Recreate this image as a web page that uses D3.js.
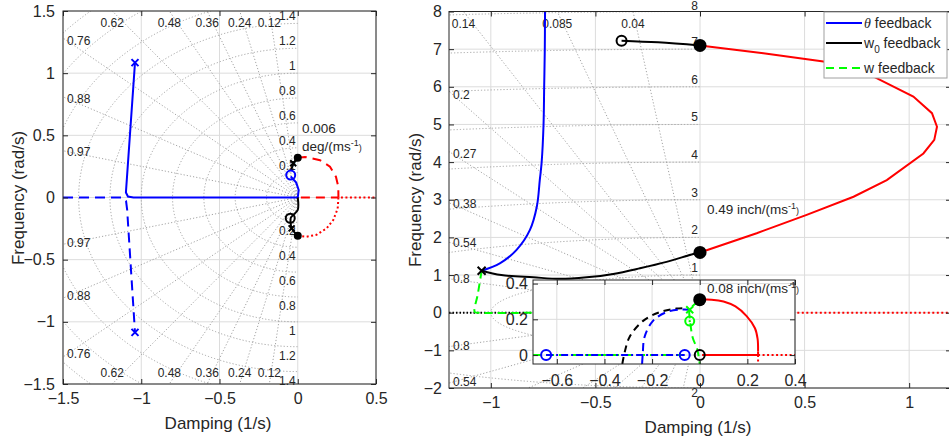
<!DOCTYPE html>
<html>
<head>
<meta charset="utf-8">
<script src="https://cdn.jsdelivr.net/npm/d3@7"></script>
<style>
  body { margin: 0; background: #fff; }
  text { font-family: "Liberation Sans", Arial, sans-serif; }
</style>
</head>
<body>
<svg id="chart" width="949" height="440"></svg>
<script>
// ---- left panel: low gain loci ----
var leftXTicks = [-1.5, -1, -0.5, 0, 0.5];
var leftYTicks = [-1.5, -1, -0.5, 0, 0.5, 1, 1.5];
var leftZeta = [0.12, 0.24, 0.36, 0.48, 0.62, 0.76, 0.88, 0.97];
var leftWn = [0.2, 0.4, 0.6, 0.8, 1, 1.2, 1.4, 1.6, 1.8, 2];
var leftWnLabels = [0.2, 0.4, 0.6, 0.8, 1, 1.2, 1.4];

var leftTheta = [[-1.04, 1.085], [-1.098, 0.04], [-1.085, 0.008], [-1.05, 0], [0, 0], [0.006, 0.06], [-0.01, 0.12], [-0.045, 0.17]];
var leftThetaNeg = [[-1.5, 0], [-1.12, 0], [-1.097, -0.03], [-1.09, -0.1], [-1.04, -1.085]];
var leftW0Up = [[0, 0.32], [-0.029, 0.275], [-0.04, 0.225]];
var leftW0Down = [[0, 0], [0, -0.1], [-0.029, -0.14], [-0.045, -0.165], [-0.045, -0.208], [-0.039, -0.248], [0, -0.307]];
var leftRedDash = [[0, 0.32], [0.046, 0.326], [0.142, 0.30], [0.206, 0.248], [0.244, 0.167], [0.259, 0.087], [0.26, 0]];
var leftRedDashAxis = [[0.02, 0], [0.26, 0]];
var leftRedDot = [[0, -0.307], [0.057, -0.315], [0.12, -0.30], [0.185, -0.248], [0.227, -0.181], [0.255, -0.09], [0.26, 0], [0.5, 0]];

var leftThetaPoles = [[-1.04, 1.085], [-1.04, -1.085]];
var leftThetaZeros = [[-0.045, 0.18]];
var leftW0Poles = [[-0.029, 0.275], [-0.039, -0.248]];
var leftW0Zeros = [[-0.048, -0.167]];
var leftGainPoints = [[0, 0.32], [0, -0.307]];

// ---- right panel: high gain loci ----
var rightXTicks = [-1, -0.5, 0, 0.5, 1];
var rightYTicks = [-2, -1, 0, 1, 2, 3, 4, 5, 6, 7, 8];
var rightZeta = [0.04, 0.085, 0.14, 0.2, 0.27, 0.38, 0.54, 0.8];
var rightWn = [1, 2, 3, 4, 5, 6, 7, 8];

var rightTheta = [[-1.044, 1.115], [-0.957, 1.31], [-0.877, 1.67], [-0.813, 2.2], [-0.78, 2.82], [-0.766, 3.52], [-0.757, 4], [-0.748, 5], [-0.745, 6], [-0.742, 7], [-0.741, 8]];
var rightW0 = [[-1.044, 1.115], [-0.95, 1.0], [-0.797, 0.94], [-0.67, 0.9], [-0.542, 0.94], [-0.415, 1.03], [-0.287, 1.18], [-0.16, 1.35], [-0.032, 1.56], [0, 1.6]];
var rightW0Top = [[-0.375, 7.225], [-0.2, 7.18], [0, 7.1]];
var rightRed = [[0, 7.1], [0.303, 6.89], [0.59, 6.67], [0.83, 6.27], [1.02, 5.74], [1.109, 5.3], [1.133, 4.94], [1.12, 4.59], [1.068, 4.23], [0.893, 3.52], [0.734, 3.08], [0.51, 2.6], [0.271, 2.11], [0, 1.6]];
var rightRedDot = [[0.25, 0], [1.2, 0]];
var rightBlackDot = [[-1.2, 0], [-0.8, 0]];
var rightGreen = [[-1.044, 1.115], [-1.062, 0.5], [-1.077, 0.02], [-1.06, 0], [-0.8, 0]];

var rightW0Poles = [[-1.044, 1.115]];
var rightW0Zeros = [[-0.375, 7.225]];
var rightGainPoints = [[0, 7.1], [0, 1.6]];

// ---- inset ----
var insetXTicks = [-0.6, -0.4, -0.2, 0, 0.2, 0.4];
var insetYTicks = [0, 0.2, 0.4];
var insetRedAxis = [[0.01, 0], [0.245, 0], [0.245, 0.02]];
var insetRedArc = [[0.245, 0.02], [0.243, 0.09], [0.232, 0.15], [0.197, 0.218], [0.15, 0.272], [0.1, 0.3], [0.05, 0.31], [0, 0.31]];
var insetRedDot = [[0.245, 0], [0.4, 0]];
var insetRedDotDown = [[0.245, 0], [0.245, -0.05]];
var insetBlackDash = [[-0.325, -0.05], [-0.316, 0.01], [-0.295, 0.1], [-0.239, 0.19], [-0.168, 0.24], [-0.098, 0.26], [-0.05, 0.262]];
var insetBlueDash = [[-0.242, -0.05], [-0.239, 0.01], [-0.232, 0.1], [-0.197, 0.19], [-0.14, 0.24], [-0.077, 0.255], [-0.042, 0.254]];
var insetGreenDash = [[-0.005, 0.3], [-0.042, 0.254], [-0.04, 0.19], [-0.03, 0.1], [-0.01, 0.03], [0, -0.05]];
var insetGreenAxis = [[-0.7, 0], [-0.06, 0]];
var insetBlueAxis = [[-0.645, 0], [-0.063, 0]];

var insetThetaZeros = [[-0.645, 0], [-0.063, 0]];
var insetW0Zeros = [[0, 0]];
var insetGainPoints = [[0, 0.31]];
var insetWPoles = [[-0.042, 0.254]];
var insetWZeros = [[-0.042, 0.19]];

var legendLabels = ["θ", "w", "w"];

// ---------------------------------------------------------------
var svg = d3.select("#chart");
var defs = svg.append("defs");
var ink = "#262626";
var fmt = function(d) { return (d < 0 ? "\u2212" : "") + Math.abs(d); };

var xL = d3.scaleLinear().domain([-1.5, 0.5]).range([63, 376]);
var yL = d3.scaleLinear().domain([-1.5, 1.5]).range([384, 11]);
var xR = d3.scaleLinear().domain([-1.2, 1.2]).range([449, 951]);
var yR = d3.scaleLinear().domain([-2, 8]).range([388, 11.5]);
var xI = d3.scaleLinear().domain([-0.7, 0.4]).range([533, 795]);
var yI = d3.scaleLinear().domain([-0.05, 0.42]).range([364, 280]);

function clips(id, x, y) {
  var x0 = x.range()[0], x1 = x.range()[1], yb = y.range()[0], yt = y.range()[1];
  defs.append("clipPath").attr("id", id + "-clip").append("rect")
      .attr("x", x0).attr("y", yt).attr("width", x1 - x0).attr("height", yb - yt);
  defs.append("clipPath").attr("id", id + "-half").append("rect")
      .attr("x", x0).attr("y", yt).attr("width", x(0) - x0).attr("height", yb - yt);
}

function grid(g, x, y, xt, yt) {
  var gg = g.append("g").attr("stroke", "#dcdcdc").attr("stroke-width", 1);
  xt.forEach(function(t) {
    gg.append("line").attr("x1", x(t)).attr("x2", x(t)).attr("y1", y.range()[0]).attr("y2", y.range()[1]);
  });
  yt.forEach(function(t) {
    gg.append("line").attr("y1", y(t)).attr("y2", y(t)).attr("x1", x.range()[0]).attr("x2", x.range()[1]);
  });
}

function sgrid(g, id, x, y, zetas, wns, wnLabels, o) {
  var dx0 = x.domain()[0], dy0 = y.domain()[0], dy1 = y.domain()[1];
  var R = Math.hypot(dx0, Math.max(-dy0, dy1)) * 1.3;
  var s = g.append("g").attr("clip-path", "url(#" + id + "-clip)")
      .attr("fill", "none").attr("stroke", "#9a9a9a").attr("stroke-width", 0.9)
      .attr("stroke-dasharray", "1.2,2");
  zetas.forEach(function(z) {
    var w = Math.sqrt(1 - z * z);
    [1, -1].forEach(function(sg) {
      s.append("line").attr("x1", x(0)).attr("y1", y(0))
        .attr("x2", x(-R * z)).attr("y2", y(sg * R * w));
    });
  });
  var half = g.append("g").attr("clip-path", "url(#" + id + "-half)")
      .attr("fill", "none").attr("stroke", "#9a9a9a").attr("stroke-width", 0.9)
      .attr("stroke-dasharray", "1.2,2");
  wns.forEach(function(w) {
    half.append("ellipse").attr("cx", x(0)).attr("cy", y(0))
      .attr("rx", x(w) - x(0)).attr("ry", y(0) - y(w));
  });

  var t = g.append("g").attr("font-size", 12).attr("fill", ink);
  var px = x.range()[0] + 4, top = y.range()[1], bot = y.range()[0];
  zetas.forEach(function(z) {
    var w = Math.sqrt(1 - z * z);
    var yd = (-x.invert(px) / z) * w;
    [1, -1].forEach(function(sg) {
      var py = y(sg * yd);
      if (py > top + 5 && py < bot - 5) {
        t.append("text").attr("x", px).attr("y", py + 4).text(z);
      } else if (sg > 0 || o.edgeLow) {
        var ye = sg > 0 ? dy1 : -dy0;
        t.append("text").attr("x", x(-(ye / w) * z))
          .attr("y", sg > 0 ? top + 16 : bot - 7.5)
          .attr("text-anchor", "middle").text(z);
      }
    });
  });
  wnLabels.forEach(function(w) {
    if (w <= dy1) t.append("text").attr("x", x(0) - 2).attr("y", Math.max(y(w) + o.wnUp, 9.5)).attr("text-anchor", "end").text(w);
    if (-w >= dy0) t.append("text").attr("x", x(0) - 2).attr("y", y(-w) + o.wnDown).attr("text-anchor", "end").text(w);
  });
}

function axes(g, x, y, xt, yt, o) {
  var yb = y.range()[0], ytp = y.range()[1], x0 = x.range()[0], x1 = x.range()[1];
  var styleAxis = function(a) {
    a.select(".domain").remove();
    a.selectAll("line").attr("stroke", ink);
    a.selectAll("text").attr("fill", ink).attr("font-size", 16)
      .attr("font-family", "Liberation Sans, Arial, sans-serif");
  };
  g.append("g").attr("transform", "translate(0," + yb + ")")
    .call(d3.axisBottom(x).tickValues(xt).tickSize(-5).tickPadding(o.xPad).tickFormat(fmt)).call(styleAxis);
  g.append("g").attr("transform", "translate(0," + ytp + ")")
    .call(d3.axisTop(x).tickValues(xt).tickSize(-5).tickFormat("")).call(styleAxis);
  g.append("g").attr("transform", "translate(" + x0 + ",0)")
    .call(d3.axisLeft(y).tickValues(yt).tickSize(-5).tickPadding(o.yPad).tickFormat(fmt)).call(styleAxis);
  g.append("g").attr("transform", "translate(" + x1 + ",0)")
    .call(d3.axisRight(y).tickValues(yt).tickSize(-5).tickFormat("")).call(styleAxis);
  g.append("rect").attr("x", x0).attr("y", ytp).attr("width", x1 - x0).attr("height", yb - ytp)
    .attr("fill", "none").attr("stroke", ink).attr("stroke-width", 1);
}

function curve(g, id, x, y, data, color, dash, smooth) {
  var line = d3.line().x(function(d) { return x(d[0]); }).y(function(d) { return y(d[1]); })
    .curve(smooth ? d3.curveCatmullRom : d3.curveLinear);
  g.append("path").attr("clip-path", "url(#" + id + "-clip)")
    .attr("d", line(data)).attr("fill", "none").attr("stroke", color)
    .attr("stroke-width", 2).attr("stroke-dasharray", dash || null);
}

function marks(g, x, y, data, kind, color, r) {
  data.forEach(function(d) {
    var px = x(d[0]), py = y(d[1]);
    if (kind === "x") {
      g.append("path").attr("d", "M" + (px - r) + "," + (py - r) + "L" + (px + r) + "," + (py + r) +
        "M" + (px - r) + "," + (py + r) + "L" + (px + r) + "," + (py - r))
        .attr("stroke", color).attr("stroke-width", 2);
    } else if (kind === "dot") {
      g.append("circle").attr("cx", px).attr("cy", py).attr("r", r).attr("fill", color);
    } else {
      g.append("circle").attr("cx", px).attr("cy", py).attr("r", r)
        .attr("fill", "none").attr("stroke", color).attr("stroke-width", 2);
      if (kind === "dotc") g.append("circle").attr("cx", px).attr("cy", py).attr("r", 1.2).attr("fill", color);
    }
  });
}

function note(g, x, y, parts) {
  var t = g.append("text").attr("x", x).attr("y", y)
    .attr("font-family", "Lato, 'Open Sans', sans-serif").attr("font-size", 13.5).attr("fill", ink);
  parts.forEach(function(p) {
    var s = t.append("tspan").text(p[0]);
    if (p[1]) s.attr("font-size", 9).attr("dy", p[1]);
  });
}

// ---------- left panel ----------
clips("L", xL, yL);
var gl = svg.append("g");
grid(gl, xL, yL, leftXTicks, leftYTicks);
sgrid(gl, "L", xL, yL, leftZeta, leftWn, leftWnLabels, { wnUp: -3, wnDown: 13, edgeLow: true });

curve(gl, "L", xL, yL, leftThetaNeg, "#0000ff", "10,6");
curve(gl, "L", xL, yL, leftTheta, "#0000ff");
curve(gl, "L", xL, yL, leftRedDash, "#ff0000", "9,6");
curve(gl, "L", xL, yL, leftRedDashAxis, "#ff0000", "9,6");
curve(gl, "L", xL, yL, leftRedDot, "#ff0000", "2,2.5");
curve(gl, "L", xL, yL, leftW0Up, "#000");
curve(gl, "L", xL, yL, leftW0Down, "#000", null, true);
marks(gl, xL, yL, leftThetaPoles, "x", "#0000ff", 3.5);
marks(gl, xL, yL, leftThetaZeros, "o", "#0000ff", 4.5);
marks(gl, xL, yL, leftW0Poles, "x", "#000", 3);
marks(gl, xL, yL, leftW0Zeros, "o", "#000", 4.5);
marks(gl, xL, yL, leftGainPoints, "dot", "#000", 4);
axes(gl, xL, yL, leftXTicks, leftYTicks, { xPad: 9, yPad: 8 });
note(gl, 302, 133, [["0.006"]]);
note(gl, 302, 151, [["deg/(ms"], ["-1", -5], [")", 5]]);

gl.append("text").attr("x", 218).attr("y", 429).attr("text-anchor", "middle")
  .attr("font-size", 17).attr("fill", ink).text("Damping (1/s)");
gl.append("text").attr("transform", "translate(24,198) rotate(-90)").attr("text-anchor", "middle")
  .attr("font-size", 17).attr("fill", ink).text("Frequency (rad/s)");

// ---------- right panel ----------
clips("R", xR, yR);
var gr = svg.append("g");
grid(gr, xR, yR, rightXTicks, rightYTicks);
sgrid(gr, "R", xR, yR, rightZeta, rightWn, rightWn, { wnUp: -3, wnDown: 9, edgeLow: false });

curve(gr, "R", xR, yR, rightBlackDot, "#000", "1.5,2");
curve(gr, "R", xR, yR, rightRedDot, "#ff0000", "2,2.5");
curve(gr, "R", xR, yR, rightGreen, "#00ff00", "8,5", true);
curve(gr, "R", xR, yR, rightTheta, "#0000ff", null, true);
curve(gr, "R", xR, yR, rightRed, "#ff0000");
curve(gr, "R", xR, yR, rightW0, "#000", null, true);
curve(gr, "R", xR, yR, rightW0Top, "#000", null, true);
marks(gr, xR, yR, rightW0Poles, "x", "#000", 4);
marks(gr, xR, yR, rightW0Zeros, "o", "#000", 5);
marks(gr, xR, yR, rightGainPoints, "dot", "#000", 6.5);
axes(gr, xR, yR, rightXTicks, rightYTicks, { xPad: 9, yPad: 7 });
note(gr, 707, 214, [["0.49 inch/(ms"], ["-1", -5], [")", 5]]);

gr.append("text").attr("x", 698).attr("y", 433).attr("text-anchor", "middle")
  .attr("font-size", 17).attr("fill", ink).text("Damping (1/s)");
gr.append("text").attr("transform", "translate(421,200) rotate(-90)").attr("text-anchor", "middle")
  .attr("font-size", 17).attr("fill", ink).text("Frequency (rad/s)");

// ---------- inset ----------
clips("I", xI, yI);
var gi = svg.append("g");
gi.append("rect").attr("x", xI.range()[0]).attr("y", yI.range()[1])
  .attr("width", xI.range()[1] - xI.range()[0]).attr("height", yI.range()[0] - yI.range()[1]).attr("fill", "#fff");
grid(gi, xI, yI, insetXTicks, insetYTicks);
curve(gi, "I", xI, yI, insetRedDot, "#ff0000", "2,2.5");
curve(gi, "I", xI, yI, insetRedDotDown, "#ff0000", "2,2.5");
curve(gi, "I", xI, yI, insetGreenAxis, "#00ff00", "8,5");
curve(gi, "I", xI, yI, insetBlueAxis, "#0000ff", "7,3,2,3");
curve(gi, "I", xI, yI, insetBlackDash, "#000", "7,5", true);
curve(gi, "I", xI, yI, insetBlueDash, "#0000ff", "8,5", true);
curve(gi, "I", xI, yI, insetGreenDash, "#00ff00", "8,5", true);
curve(gi, "I", xI, yI, insetRedAxis, "#ff0000");
curve(gi, "I", xI, yI, insetRedArc, "#ff0000", null, true);
marks(gi, xI, yI, insetThetaZeros, "o", "#0000ff", 5);
marks(gi, xI, yI, insetW0Zeros, "o", "#000", 5);
marks(gi, xI, yI, insetWPoles, "x", "#00ff00", 3.5);
marks(gi, xI, yI, insetWZeros, "dotc", "#00ff00", 4.5);
marks(gi, xI, yI, insetGainPoints, "dot", "#000", 6.5);
axes(gi, xI, yI, insetXTicks, insetYTicks, { xPad: 11, yPad: 5 });
note(gi, 707, 293, [["0.08 inch/(ms"], ["-1", -5], [")", 5]]);

// ---------- legend ----------
var lg = svg.append("g");
lg.append("rect").attr("x", 824).attr("y", 12).attr("width", 123).attr("height", 66)
  .attr("fill", "#fff").attr("stroke", "#a0a0a0");
var legendRows = [
  { y: 23, color: "#0000ff", dash: null },
  { y: 43, color: "#000", dash: null },
  { y: 68, color: "#00ff00", dash: "8,5" }
];
legendRows.forEach(function(r, i) {
  lg.append("line").attr("x1", 826).attr("x2", 862).attr("y1", r.y).attr("y2", r.y)
    .attr("stroke", r.color).attr("stroke-width", 2).attr("stroke-dasharray", r.dash);
  var t = lg.append("text").attr("x", 864).attr("y", r.y + 5).attr("font-size", 14).attr("fill", ink);
  if (i === 0) {
    t.append("tspan").attr("font-family", "Liberation Serif, serif").attr("font-style", "italic").text(legendLabels[i]);
    t.append("tspan").text(" feedback");
  } else if (i === 1) {
    t.append("tspan").text(legendLabels[i]);
    t.append("tspan").attr("font-size", 10).attr("dy", 5).text("0");
    t.append("tspan").attr("dy", -5).text(" feedback");
  } else {
    t.append("tspan").text(legendLabels[i] + " feedback");
  }
});
</script>
</body>
</html>
